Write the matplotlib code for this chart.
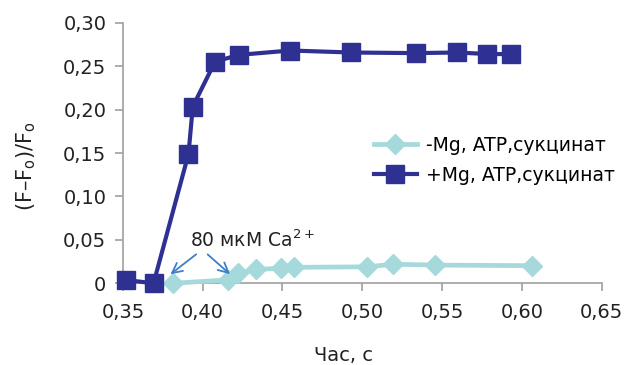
import matplotlib
matplotlib.use("Agg")
import matplotlib.pyplot as plt

plt.rcParams['font.family'] = ['DejaVu Sans']

# Data
x_minus = [0.3813, 0.4157, 0.4220, 0.4335, 0.4491, 0.4574, 0.5033, 0.5194, 0.5454, 0.6065]
y_minus = [0.000, 0.004, 0.0115, 0.016, 0.0173, 0.0184, 0.019, 0.022, 0.021, 0.0203]
x_plus = [0.3521, 0.3692, 0.3911, 0.3938, 0.4078, 0.4230, 0.4549, 0.4929, 0.5336, 0.5592, 0.5784, 0.5930]
y_plus = [0.0038, 0.000, 0.149, 0.2035, 0.2553, 0.263, 0.268, 0.2657, 0.265, 0.2657, 0.264, 0.2638]
label_minus = "-Mg, ATP,сукцинат"
label_plus = "+Mg, ATP,сукцинат"
xticks = [0.35, 0.40, 0.45, 0.50, 0.55, 0.60, 0.65]
yticks = [0, 0.05, 0.10, 0.15, 0.20, 0.25, 0.30]
xtick_labels = ["0,35", "0,40", "0,45", "0,50", "0,55", "0,60", "0,65"]
ytick_labels = ["0", "0,05", "0,10", "0,15", "0,20", "0,25", "0,30"]

light = "#a6d9dc"
dark = "#2e3192"
grey = "#a0a0a0"

fig = plt.figure(figsize=(6.24, 3.65), dpi=100)
ax = fig.add_axes([0.197, 0.2238, 0.767, 0.714])

ax.plot(x_minus, y_minus, color=light, lw=3.4, marker='D', ms=10,
        markeredgecolor=light, label=label_minus, clip_on=False, zorder=3)
ax.plot(x_plus, y_plus, color=dark, lw=3.0, marker='s', ms=12.5,
        markeredgecolor=dark, label=label_plus, clip_on=False, zorder=4)

ax.set_xlim(0.35, 0.65)
ax.set_ylim(0, 0.30)
ax.set_xticks(xticks)
ax.set_xticklabels(xtick_labels)
ax.set_yticks(yticks)
ax.set_yticklabels(ytick_labels)

for s in ['top', 'right']:
    ax.spines[s].set_visible(False)
for s in ['left', 'bottom']:
    ax.spines[s].set_color(grey)
    ax.spines[s].set_linewidth(1.2)
ax.tick_params(axis='both', colors=grey, length=6, width=1.2, labelcolor='#222222',
               labelsize=14)
ax.tick_params(axis='x', pad=8)
ax.tick_params(axis='y', pad=6)

ax.set_xlabel("Час, с", fontsize=14, color='#222222')
ax.xaxis.set_label_coords(0.46, -0.24)
ax.set_ylabel("(F–F$_\\mathregular{o}$)/F$_\\mathregular{o}$", fontsize=15, color='#222222')
ax.yaxis.set_label_coords(-0.178, 0.448)

# Annotation arrows
arrow_color = "#3f7fc6"
ax.annotate("", xy=(0.3784, 0.0084), xytext=(0.3973, 0.0354),
            arrowprops=dict(arrowstyle='->', color=arrow_color, lw=1.3, mutation_scale=18))
ax.annotate("", xy=(0.4184, 0.0084), xytext=(0.4018, 0.0354),
            arrowprops=dict(arrowstyle='->', color=arrow_color, lw=1.3, mutation_scale=18))
ax.text(0.3920, 0.0375, "80 мкМ Ca$^{\\mathregular{2+}}$", fontsize=13.5, color='#222222',
        ha='left', va='bottom')

leg = ax.legend(loc='upper left', bbox_to_anchor=(0.508, 0.595), frameon=False,
                fontsize=13.5, handlelength=2.3, handletextpad=0.5, labelspacing=0.6,
                borderaxespad=0)

fig.savefig("out.png", dpi=100)
